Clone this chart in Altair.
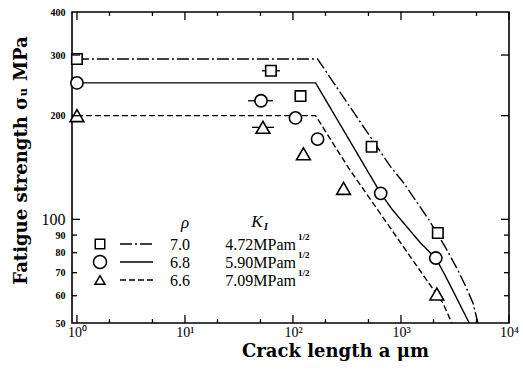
import altair as alt
import pandas as pd

# ---------------- data ----------------
series = ["7.0", "6.8", "6.6"]             # rho
k_values = ["4.72", "5.90", "7.09"]        # K_I, MPa m^1/2
shapes = ["square", "circle", "triangle-up"]

# fitted curves (crack length a [um], fatigue strength [MPa])
curve_70_a = [1, 169, 803, 1061, 1808, 2603, 3365, 3990, 4638, 5155]
curve_70_s = [292, 292, 142, 127.5, 99.8, 82.5, 71.2, 63.7, 57.2, 50]
curve_68_a = [1, 162, 649, 833, 1525, 2100, 2601, 3111, 3716, 4285]
curve_68_s = [249, 249, 119, 106.6, 85.2, 77.2, 68.1, 61, 54.6, 50]
curve_66_a = [1, 162, 327, 1156, 1808, 2438, 2958]
curve_66_s = [200, 200, 141, 79.8, 65.3, 57.2, 50]

# measured points
pts_70_a = [1, 62.5, 117.4, 535, 2193]
pts_70_s = [292, 270, 228, 162.5, 91.3]
pts_68_a = [1, 50.6, 105.5, 169, 649, 2100]
pts_68_s = [249, 221, 197, 171, 119, 77.2]
pts_66_a = [1, 52.7, 125, 294, 2148]
pts_66_s = [200, 185, 155, 123, 60.7]

# horizontal scatter bars
err_series = ["7.0", "6.8", "6.6"]
err_lo = [51.6, 38.3, 41.7]
err_hi = [75.8, 65.3, 66.7]
err_s = [270, 221, 185]

x_major = [1, 10, 100, 1000, 10000]
x_minor = [2, 5, 20, 50, 200, 500, 2000, 5000]
y_labels = [50, 60, 70, 80, 90, 100, 200, 300, 400]
y_major = [100, 200, 300]
y_minor = [60, 70, 80, 90]

# ---------------- tables ----------------
curves = []
for name, xa, ya in [("7.0", curve_70_a, curve_70_s), ("6.8", curve_68_a, curve_68_s), ("6.6", curve_66_a, curve_66_s)]:
    for i, (a, s) in enumerate(zip(xa, ya)):
        curves.append({"a": a, "s": s, "series": name, "order": i})
curves = pd.DataFrame(curves)

points = []
for name, xa, ya in [("7.0", pts_70_a, pts_70_s), ("6.8", pts_68_a, pts_68_s), ("6.6", pts_66_a, pts_66_s)]:
    for a, s in zip(xa, ya):
        points.append({"a": a, "s": s, "series": name})
points = pd.DataFrame(points)

errs = pd.DataFrame({"series": err_series, "lo": err_lo, "hi": err_hi, "s": err_s})

W, H = 437, 311
FONT = "Liberation Serif"
TFONT = "DejaVu Serif"
dash_range = [[12, 3, 2, 3], [1, 0], [6, 3]]

xs = alt.Scale(type="log", domain=[0.9, 10000], nice=False)
ys = alt.Scale(type="log", domain=[50, 400], nice=False)

x_axis = alt.Axis(
    values=x_major, ticks=False, domain=False, grid=False,
    labelExpr="'10' + ['\u2070','\u00b9','\u00b2','\u00b3','\u2074'][round(log(datum.value)/LN10)]",
    labelFont=FONT, labelFontSize=14, labelColor="black", labelPadding=2,
    labelFlush=False, labelOverlap=False,
    title="Crack length a \u03bcm", titleFont=TFONT, titleFontSize=18, titleFontWeight="bold",
    titleColor="black", titleX=263, titleY=33, titleBaseline="alphabetic",
)
y_axis = alt.Axis(
    values=y_labels, ticks=False, domain=False, grid=False,
    labelFont=FONT,
    labelFontSize={"condition": {"test": "datum.value == 100", "value": 16}, "value": 10},
    labelFontWeight={"condition": {"test": "datum.value == 100", "value": "normal"}, "value": "bold"},
    labelColor="black", labelPadding=7, labelOverlap=False, labelFlush=False,
    title="Fatigue strength \u03c3\u1d64 MPa", titleFont=TFONT, titleFontSize=18,
    titleFontWeight="bold", titleColor="black", titleX=-51, titleY=148,
    titleBaseline="middle",
)

X = alt.X("a:Q", scale=xs, axis=x_axis)
Y = alt.Y("s:Q", scale=ys, axis=y_axis)

lines = alt.Chart(curves).mark_line(color="black", strokeWidth=1.4).encode(
    x=X, y=Y,
    strokeDash=alt.StrokeDash("series:N", scale=alt.Scale(domain=series, range=dash_range), legend=None),
    detail="series:N", order="order:Q",
)

bars = alt.Chart(errs).mark_rule(color="black", strokeWidth=1.3).encode(
    x=alt.X("lo:Q", scale=xs), x2="hi:Q", y=alt.Y("s:Q", scale=ys)
)

marks = alt.Chart(points).mark_point(fill="white", fillOpacity=1, stroke="black", strokeWidth=1.6, opacity=1).encode(
    x=alt.X("a:Q", scale=xs), y=alt.Y("s:Q", scale=ys),
    shape=alt.Shape("series:N", scale=alt.Scale(domain=series, range=shapes), legend=None),
    size=alt.Size("series:N", scale=alt.Scale(domain=series, range=[110, 190, 110]), legend=None),
)

# inward ticks on all four sides
def xticks(vals, length):
    df = pd.DataFrame({"a": vals})
    bot = alt.Chart(df).mark_rule(color="black", strokeWidth=1.3).encode(
        x=alt.X("a:Q", scale=xs), y=alt.value(H), y2=alt.value(H - length))
    top = alt.Chart(df).mark_rule(color="black", strokeWidth=1.3).encode(
        x=alt.X("a:Q", scale=xs), y=alt.value(0), y2=alt.value(length))
    return [bot, top]

def yticks(vals, length):
    df = pd.DataFrame({"s": vals})
    left = alt.Chart(df).mark_rule(color="black", strokeWidth=1.3).encode(
        y=alt.Y("s:Q", scale=ys), x=alt.value(0), x2=alt.value(length))
    right = alt.Chart(df).mark_rule(color="black", strokeWidth=1.3).encode(
        y=alt.Y("s:Q", scale=ys), x=alt.value(W), x2=alt.value(W - length))
    return [left, right]

ticks = xticks(x_major, 8) + xticks(x_minor, 4) + yticks(y_major, 8) + yticks(y_minor, 5)

# legend drawn inside the plot
one = alt.Data(values=[{}])
legend = []
row_y = [232, 250, 268]
sizes = [90, 170, 100]
for i, name in enumerate(series):
    yy = row_y[i]
    legend.append(alt.Chart(one).mark_point(shape=shapes[i], size=sizes[i], fill="white", fillOpacity=1,
                                            stroke="black", strokeWidth=1.5, opacity=1).encode(
        x=alt.value(28), y=alt.value(yy)))
    legend.append(alt.Chart(one).mark_rule(color="black", strokeWidth=1.3, strokeDash=dash_range[i]).encode(
        x=alt.value(48), x2=alt.value(81), y=alt.value(yy)))
    legend.append(alt.Chart(one).mark_text(font=FONT, fontSize=16, align="left", baseline="middle", color="black").encode(
        x=alt.value(98), y=alt.value(yy + 1), text=alt.value(name)))
    legend.append(alt.Chart(one).mark_text(font=FONT, fontSize=16, align="right", baseline="middle", color="black").encode(
        x=alt.value(224), y=alt.value(yy + 1), text=alt.value(k_values[i] + "MPam")))
    legend.append(alt.Chart(one).mark_text(font=FONT, fontSize=9, fontWeight="bold", align="left", baseline="middle", color="black").encode(
        x=alt.value(226), y=alt.value(yy - 7), text=alt.value("1/2")))

legend.append(alt.Chart(one).mark_text(font=FONT, fontSize=17, fontStyle="italic", align="center", baseline="middle", color="black").encode(
    x=alt.value(113), y=alt.value(211), text=alt.value("\u03c1")))
legend.append(alt.Chart(one).mark_text(font=FONT, fontSize=17, fontStyle="italic", align="center", baseline="middle", color="black").encode(
    x=alt.value(185), y=alt.value(210), text=alt.value("K")))
legend.append(alt.Chart(one).mark_text(font=FONT, fontSize=10, fontStyle="italic", fontWeight="bold", align="left", baseline="middle", color="black").encode(
    x=alt.value(192), y=alt.value(215), text=alt.value("I")))

chart = alt.layer(lines, bars, marks, *ticks, *legend).properties(
    width=W, height=H,
    autosize=alt.AutoSizeParams(type="none"),
    padding={"left": 72, "top": 12, "right": 14, "bottom": 49},
    background="white",
).configure_view(stroke="black", strokeWidth=1.6)

chart.save("out.html", embed_options={"renderer": "svg", "actions": False})
